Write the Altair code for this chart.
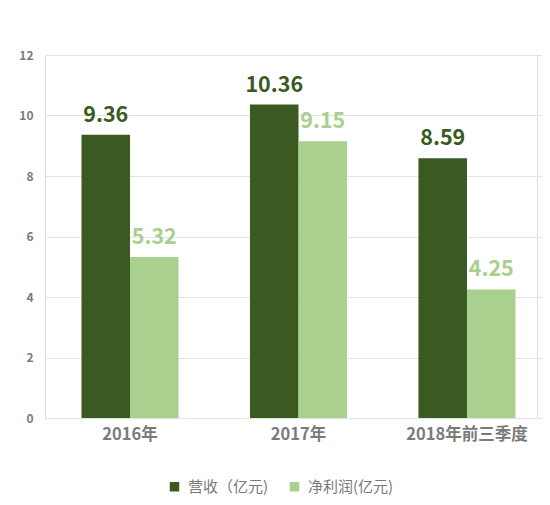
import altair as alt
import pandas as pd

CATEGORIES = ["2016年", "2017年", "2018年前三季度"]
SERIES = ["营收（亿元)", "净利润(亿元)"]
REVENUE = [9.36, 10.36, 8.59]
PROFIT = [5.32, 9.15, 4.25]

DARK = "#3a5a21"
LIGHT = "#a9d08e"
FONT = "Noto Sans CJK SC"


def load_data() -> pd.DataFrame:
    rows = []
    for cat, rev, prof in zip(CATEGORIES, REVENUE, PROFIT):
        rows.append({"cat": cat, "series": SERIES[0], "value": rev})
        rows.append({"cat": cat, "series": SERIES[1], "value": prof})
    return pd.DataFrame(rows)


def build_chart(df: pd.DataFrame) -> alt.LayerChart:
    x = alt.X(
        "cat:N",
        sort=CATEGORIES,
        title=None,
        scale=alt.Scale(paddingInner=0.424, paddingOuter=0.2166, range=[0, 507]),
        axis=alt.Axis(
            labelAngle=0, labelFontSize=16.5, labelFontWeight="bold",
            labelColor="#7a7a7a", labelPadding=8, ticks=False, domain=False,
            labelFont=FONT,
        ),
    )
    y = alt.Y(
        "value:Q",
        title=None,
        scale=alt.Scale(domain=[0, 12]),
        axis=alt.Axis(
            values=[0, 2, 4, 6, 8, 10, 12], labelFontSize=12, labelFontWeight="bold",
            labelColor="#7a7a7a", labelPadding=12, ticks=False, domain=False,
            gridColor="#e3e3e3", gridWidth=1, labelFont=FONT,
        ),
    )
    color = alt.Color(
        "series:N",
        sort=SERIES,
        scale=alt.Scale(domain=SERIES, range=[DARK, LIGHT]),
        legend=alt.Legend(
            title=None, orient="none", direction="horizontal",
            legendX=122, legendY=424, symbolType="square", symbolSize=90,
            symbolStrokeWidth=0, labelFontSize=15, labelColor="#7a7a7a",
            labelFont=FONT, columnPadding=18, labelOffset=6,
        ),
    )
    offset = alt.XOffset("series:N", sort=SERIES)

    bars = alt.Chart(df).mark_bar().encode(x=x, y=y, color=color, xOffset=offset)
    labels = (
        alt.Chart(df)
        .mark_text(baseline="bottom", dy=-8, fontSize=21.5, fontWeight="bold", font=FONT)
        .encode(x=x, y=y, xOffset=offset, text=alt.Text("value:Q", format=".2f"),
                color=alt.Color("series:N", scale=alt.Scale(domain=SERIES, range=[DARK, LIGHT]), legend=None))
    )
    return (
        alt.layer(bars, labels)
        .properties(
            width=492, height=363,
            autosize=alt.AutoSizeParams(type="none"),
            padding={"left": 37, "top": 47, "right": 5, "bottom": 80},
        )
        .configure_view(stroke=None)
        .configure(background="white")
    )


if __name__ == "__main__":
    chart = build_chart(load_data())
    chart.save("out.html", embed_options={"renderer": "svg", "actions": False})
